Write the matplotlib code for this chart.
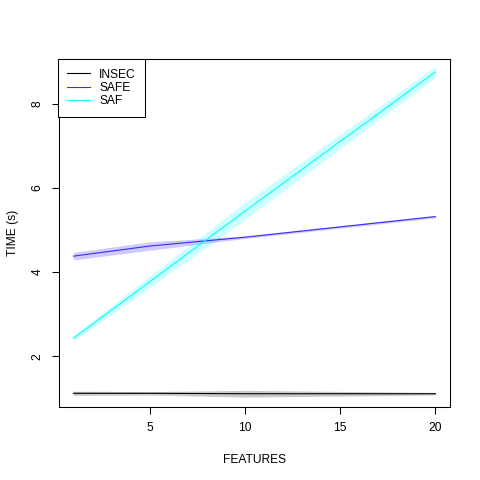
import numpy as np
import matplotlib
matplotlib.use("Agg")
from matplotlib import pyplot as plt

# values
features = [1, 5, 10, 20]
insec = [1.12, 1.12, 1.11, 1.11]
insec_sd = [0.05, 0.04, 0.08, 0.03]
safe = [4.38, 4.62, 4.83, 5.32]
safe_sd = [0.09, 0.10, 0.03, 0.03]
saf = [2.43, 3.77, 5.45, 8.76]
saf_sd = [0.06, 0.14, 0.2, 0.14]

names = ["INSEC", "SAFE", "SAF"]
means = [insec, safe, saf]
sds = [insec_sd, safe_sd, saf_sd]
line_cols = ["black", "#3b2bff", "cyan"]
band_cols = [(0.3, 0.3, 0.3, 0.3), (0.25, 0.2, 1.0, 0.25), (0.0, 1.0, 1.0, 0.2)]

plt.rcParams["font.family"] = ["Liberation Sans", "DejaVu Sans"]
px = 0.72  # points per pixel at dpi 100

fig = plt.figure(figsize=(4.8, 4.8), dpi=100)
ax = fig.add_axes([59 / 480, 1 - 406.6 / 480, (449.8 - 59) / 480, (406.6 - 59) / 480])

x = np.array(features, dtype=float)
for name, m, s, lc, bc in zip(names, means, sds, line_cols, band_cols):
    m = np.array(m)
    s = np.array(s)
    ax.fill_between(x, m - s, m + s, color=bc, linewidth=0)
    ax.plot(x, m, color=lc, linewidth=0.8, label=name)

xr = x.max() - x.min()
ax.set_xlim(x.min() - 0.04 * xr, x.max() + 0.04 * xr)
lo = min(min(v) for v in means)
hi = max(max(v) for v in means)
yr = hi - lo
ax.set_ylim(lo - 0.04 * yr, hi + 0.04 * yr)

ax.set_xticks([5, 10, 15, 20])
ax.set_yticks([2, 4, 6, 8])
ax.tick_params(length=7.2 * px, width=0.75, labelsize=12 * px, pad=8 * px)
for t in ax.get_yticklabels():
    t.set_rotation(90)
    t.set_va("center")
for sp in ax.spines.values():
    sp.set_linewidth(0.75)

ax.set_xlabel("FEATURES", fontsize=12 * px, labelpad=20 * px)
ax.set_ylabel("TIME (s)", fontsize=12 * px, labelpad=13 * px)

leg = ax.legend(loc="upper left", bbox_to_anchor=(-0.003, 1), borderaxespad=0,
                fontsize=12 * px, fancybox=False, framealpha=1,
                edgecolor="black", handlelength=1.85, handletextpad=0.8,
                labelspacing=0.12, borderpad=0.8)
leg.get_frame().set_linewidth(0.75)

fig.savefig("out.png", dpi=100)
